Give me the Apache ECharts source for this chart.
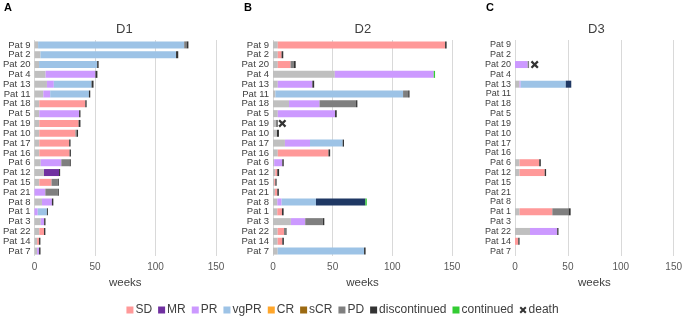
<!DOCTYPE html>
<html>
<head>
<meta charset="utf-8">
<script src="https://cdn.jsdelivr.net/npm/echarts@6/dist/echarts.min.js"></script>
<style>
  html, body { margin: 0; padding: 0; background: #fff; }
  #chart { width: 685px; height: 323px; }
</style>
</head>
<body>
<div id="chart"></div>
<script>
// rows, top to bottom
const patients = ['Pat 9', 'Pat 2', 'Pat 20', 'Pat 4', 'Pat 13', 'Pat 11', 'Pat 18', 'Pat 5', 'Pat 19', 'Pat 10', 'Pat 17',
  'Pat 16', 'Pat 6', 'Pat 12', 'Pat 15', 'Pat 21', 'Pat 8', 'Pat 1', 'Pat 3', 'Pat 22', 'Pat 14', 'Pat 7'];
const weekTicks = [0, 50, 100, 150];

// D1 - segment lengths in weeks, one value per patient
const d1Lead = [3, 5, 3.8, 9.2, 10.3, 7.3, 4, 4, 4, 4, 4, 4, 5.2, 7.9, 4, 0, 6.2, 0, 5.2, 4, 2.2, 2.2];
const d1SD   = [0, 0, 0, 0, 0, 0, 38, 0, 32.5, 29.9, 24.7, 25, 0, 0, 10.1, 0, 0, 0, 0, 3.9, 1.6, 0];
const d1MR   = [0, 0, 0, 0, 0, 0, 0, 0, 0, 0, 0, 0, 0, 12.4, 0, 0, 0, 0, 0, 0, 0, 0];
const d1PR   = [0, 0, 0, 41.2, 5.7, 5.7, 0, 32.9, 0, 0, 0, 0, 17, 0, 0, 9, 8.2, 2.7, 2.8, 0, 0, 1.6];
const d1VGPR = [120.7, 112, 48, 0, 31.2, 32, 0, 0, 0, 0, 0, 0, 0, 0, 0, 0, 0, 7.6, 0, 0, 0, 0];
const d1Deep = [0, 0, 0, 0, 0, 0, 0, 0, 0, 0, 0, 0, 0, 0, 0, 0, 0, 0, 0, 0, 0, 0];
const d1PD   = [2, 0, 0, 0, 0, 0, 0, 0, 0, 1, 0, 0, 6.8, 0, 5.2, 10.3, 0, 0, 0, 0, 0, 0];
const d1Disc = [1.5, 1.8, 1.2, 1.6, 1.6, 1.1, 1.1, 1.1, 1.5, 1.1, 1.1, 1.1, 1, 0.9, 0.8, 0.8, 1.2, 0.8, 1.1, 1.1, 1.1, 1.2];
const d1Cont = [0, 0, 0, 0, 0, 0, 0, 0, 0, 0, 0, 0, 0, 0, 0, 0, 0, 0, 0, 0, 0, 0];
const d1Death = [];

// D2
const d2Lead = [4, 4, 4, 51.8, 4, 2, 13.4, 4, 2.5, 3.3, 10, 4, 1, 2, 1, 1.7, 3.6, 3.6, 15, 3.9, 3.9, 3.9];
const d2SD   = [140.2, 3.2, 10.7, 0, 0, 0, 0, 0, 0, 0, 0, 42.5, 0, 1.6, 1, 1.9, 0, 3.9, 0, 5.3, 3.9, 0];
const d2MR   = [0, 0, 0, 0, 0, 0, 0, 0, 0, 0, 0, 0, 0, 0, 0, 0, 0, 0, 0, 0, 0, 0];
const d2PR   = [0, 0, 0, 82.9, 29, 0, 25.6, 48, 0, 0, 21, 0, 6.8, 0, 0, 0, 3.6, 0, 12, 0, 0, 0];
const d2VGPR = [0, 0, 0, 0, 0, 107, 0, 0, 0, 0, 27.4, 0, 0, 0, 0, 0, 28.8, 0, 0, 0, 0, 72.4];
const d2Deep = [0, 0, 0, 0, 0, 0, 0, 0, 0, 0, 0, 0, 0, 0, 0, 0, 41.4, 0, 0, 0, 0, 0];
const d2PD   = [0, 0, 2.8, 0, 0, 4.3, 30.6, 0, 1.7, 0, 0, 0, 0, 0, 0, 0, 0, 0, 14.7, 1.3, 0, 0];
const d2Disc = [1.3, 1.4, 1.5, 0, 1.5, 1.1, 1.1, 1.4, 0, 1.7, 1.1, 1.4, 1.2, 1.5, 1, 1.3, 0, 1.4, 1.3, 0.8, 1.3, 1.3];
const d2Cont = [0, 0, 0, 1.1, 0, 0, 0, 0, 0, 0, 0, 0, 0, 0, 0, 0, 1.2, 0, 0, 0, 0, 0];
const d2Death = [[7.8, 'Pat 19']];

// D3
const d3Lead = [0, 0, 0, 0, 4.3, 0, 0, 0, 0, 0, 0, 0, 4.3, 4.3, 0, 0, 0, 4.3, 0, 14.2, 0, 0];
const d3SD   = [0, 0, 0, 0, 0, 0, 0, 0, 0, 0, 0, 0, 18.6, 23.8, 0, 0, 0, 31, 0, 0, 3.1, 0];
const d3MR   = [0, 0, 0, 0, 0, 0, 0, 0, 0, 0, 0, 0, 0, 0, 0, 0, 0, 0, 0, 0, 0, 0];
const d3PR   = [0, 0, 12, 0, 1, 0, 0, 0, 0, 0, 0, 0, 0, 0, 0, 0, 0, 0, 0, 25.7, 0, 0];
const d3VGPR = [0, 0, 0, 0, 42.7, 0, 0, 0, 0, 0, 0, 0, 0, 0, 0, 0, 0, 0, 0, 0, 0, 0];
const d3Deep = [0, 0, 0, 0, 5.2, 0, 0, 0, 0, 0, 0, 0, 0, 0, 0, 0, 0, 0, 0, 0, 0, 0];
const d3PD   = [0, 0, 1.3, 0, 0, 0, 0, 0, 0, 0, 0, 0, 0, 0, 0, 0, 0, 15.4, 0, 0, 0, 0];
const d3Disc = [0, 0, 0, 0, 0, 0, 0, 0, 0, 0, 0, 0, 1.5, 1.3, 0, 0, 0, 1.9, 0, 1.2, 1.2, 0];
const d3Cont = [0, 0, 0, 0, 0, 0, 0, 0, 0, 0, 0, 0, 0, 0, 0, 0, 0, 0, 0, 0, 0, 0];
const d3Death = [[18.6, 'Pat 20']];

const colors = {
  lead: '#BFBFBF', SD: '#FF9999', MR: '#7030A0', PR: '#CC99FF', vgPR: '#9DC3E6', deep: '#1F3864',
  CR: '#FFA62B', sCR: '#9C6A12', PD: '#7F7F7F', discontinued: '#333333', continued: '#33CC33'
};
const crossPath = 'path://M2,0 L5,3 L8,0 L10,2 L7,5 L10,8 L8,10 L5,7 L2,10 L0,8 L3,5 L0,2 Z';

const panels = [
  { title: 'D1', letter: 'A', left: 32, width: 184, labelSize: 9.5,
    segs: [['lead', d1Lead], ['SD', d1SD], ['MR', d1MR], ['PR', d1PR], ['vgPR', d1VGPR], ['deep', d1Deep],
      ['CR', []], ['sCR', []], ['PD', d1PD], ['discontinued', d1Disc], ['continued', d1Cont]], death: d1Death },
  { title: 'D2', letter: 'B', left: 273, width: 179, labelSize: 9.5,
    segs: [['lead', d2Lead], ['SD', d2SD], ['MR', d2MR], ['PR', d2PR], ['vgPR', d2VGPR], ['deep', d2Deep],
      ['PD', d2PD], ['discontinued', d2Disc], ['continued', d2Cont]], death: d2Death },
  { title: 'D3', letter: 'C', left: 515, width: 162, labelSize: 9,
    segs: [['lead', d3Lead], ['SD', d3SD], ['MR', d3MR], ['PR', d3PR], ['vgPR', d3VGPR], ['deep', d3Deep],
      ['PD', d3PD], ['discontinued', d3Disc], ['continued', d3Cont]], death: d3Death }
];

const font = 'Liberation Sans, Arial, sans-serif';
const grids = [], xAxes = [], yAxes = [], series = [], graphics = [];

panels.forEach((p, i) => {
  grids.push({ left: p.left, width: p.width, top: 40, height: 216 });
  xAxes.push({
    gridIndex: i, type: 'value', min: 0, max: 150, interval: 50,
    name: 'weeks', nameLocation: 'middle', nameGap: 21,
    nameTextStyle: { fontSize: 11.5, color: '#404040', fontFamily: font },
    axisLine: { show: false }, axisTick: { show: false },
    axisLabel: { fontSize: 10, color: '#595959', margin: 6, fontFamily: font,
      formatter: v => weekTicks.includes(v) ? String(v) : '' },
    splitLine: { show: true, lineStyle: { color: '#D9D9D9', width: 1 } }
  });
  yAxes.push({
    gridIndex: i, type: 'category', data: patients, inverse: true,
    axisLine: { show: false }, axisTick: { show: false },
    axisLabel: { fontSize: p.labelSize, color: '#404040', margin: 4, fontFamily: font, interval: 0 },
    splitLine: { show: false }
  });
  p.segs.forEach(([name, vals]) => {
    series.push({
      name: name, type: 'bar', stack: 'p' + i, xAxisIndex: i, yAxisIndex: i,
      barWidth: 7, data: vals, itemStyle: { color: colors[name] },
      silent: true, animation: false
    });
  });
  series.push({
    name: 'death', type: 'scatter', xAxisIndex: i, yAxisIndex: i,
    symbol: crossPath, symbolSize: 8, data: p.death,
    itemStyle: { color: '#000' }, animation: false
  });
  graphics.push({
    type: 'text', left: p.left + p.width / 2 - 8, top: 23,
    style: { text: p.title, fontSize: 13, fill: '#404040', fontFamily: font }
  });
});

graphics.push(
  { type: 'text', left: 4, top: 2, style: { text: 'A', fontSize: 11, fontWeight: 'bold', fill: '#000', fontFamily: font } },
  { type: 'text', left: 244, top: 2, style: { text: 'B', fontSize: 11, fontWeight: 'bold', fill: '#000', fontFamily: font } },
  { type: 'text', left: 486, top: 2, style: { text: 'C', fontSize: 11, fontWeight: 'bold', fill: '#000', fontFamily: font } }
);

const legendNames = ['SD', 'MR', 'PR', 'vgPR', 'CR', 'sCR', 'PD', 'discontinued', 'continued'];

const chart = echarts.init(document.getElementById('chart'));
chart.setOption({
  animation: false,
  color: Object.values(colors),
  textStyle: { fontFamily: font },
  grid: grids,
  xAxis: xAxes,
  yAxis: yAxes,
  legend: {
    bottom: 2, left: 'center', itemWidth: 7, itemHeight: 7, itemGap: 6,
    textStyle: { fontSize: 12, color: '#404040', fontFamily: font, padding: [0, 0, 0, -3] },
    selectedMode: false,
    data: legendNames.map(n => ({ name: n, icon: 'rect' }))
      .concat([{ name: 'death', icon: crossPath, itemStyle: { color: '#000' } }])
  },
  graphic: graphics,
  series: series
});
</script>
</body>
</html>
